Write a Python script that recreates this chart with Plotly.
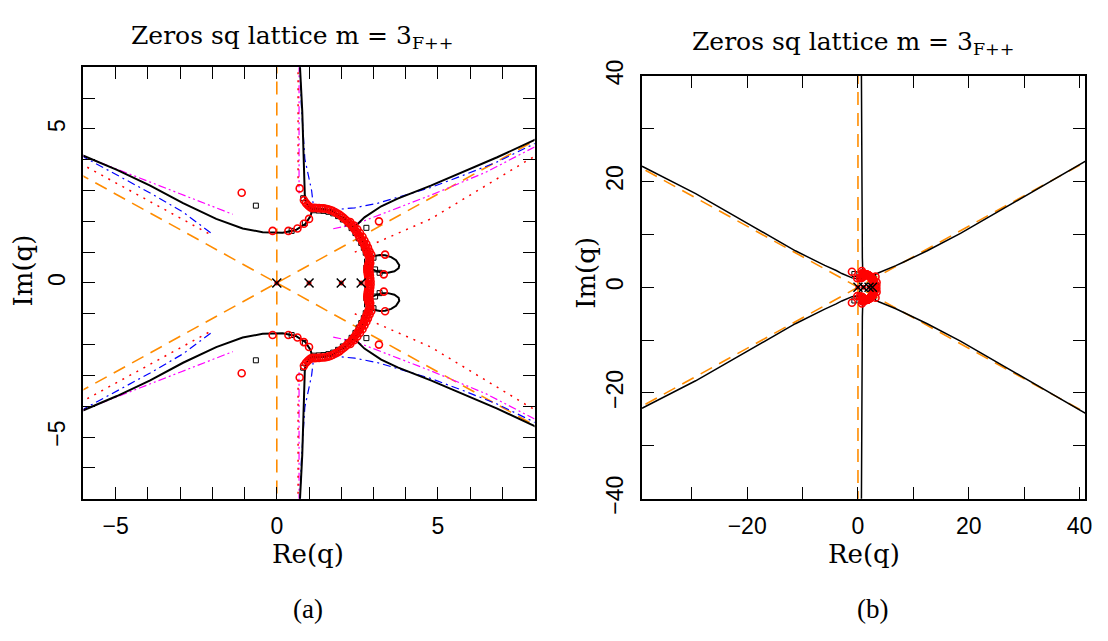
import plotly.graph_objects as go

W, H = 1108, 641

# ---------------- data (upper half-plane; lower half is the complex conjugate) ----------------
ASYM_DIAG_X = [-45.0, 45.0]
ASYM_DIAG_Y = [25.98, -25.98]
ASYM_VERT_X = [0.0, 0.0]
ASYM_VERT_Y = [-45.0, 45.0]

BLK_UL_X = [-42.0, -38.8, -29.3, -20.3, -11.3, -6.0, -4.96, -3.93, -2.91, -1.88, -1.06, -0.44, 0.18, 0.59, 0.89, 1.05, 1.10]
BLK_UL_Y = [24.0, 22.8, 17.7, 12.3, 6.9, 4.13, 3.67, 3.16, 2.59, 2.08, 1.77, 1.65, 1.63, 1.72, 1.92, 2.18, 2.40]
BLK_V_X = [0.60, 0.66, 0.72, 0.79, 0.87, 0.92, 1.00, 1.10]
BLK_V_Y = [45.0, 20.0, 7.0, 5.57, 2.80, 2.58, 2.46, 2.40]
BLK_ARC_X = [1.10, 1.30, 1.50, 1.70, 1.90, 2.10, 2.30, 2.47, 2.60, 2.72, 2.80, 2.86, 2.90, 2.84, 2.80, 2.81, 2.83]
BLK_ARC_Y = [2.40, 2.40, 2.37, 2.33, 2.22, 2.08, 1.90, 1.72, 1.50, 1.26, 1.05, 0.90, 0.80, 0.62, 0.45, 0.25, 0.0]
BLK_UR_X = [2.40, 2.72, 3.24, 3.75, 4.78, 5.81, 6.84, 7.97, 12.5, 18.5, 24.5, 33.5, 42.0]
BLK_UR_Y = [1.80, 2.13, 2.49, 2.74, 3.16, 3.62, 4.08, 4.63, 6.9, 10.2, 13.8, 19.2, 24.4]
BLK_LOOP_X = [2.90, 3.04, 3.20, 3.36, 3.55, 3.70, 3.80, 3.78, 3.65, 3.45, 3.29, 3.10, 2.95, 2.84]
BLK_LOOP_Y = [0.82, 0.88, 0.91, 0.90, 0.84, 0.74, 0.58, 0.48, 0.38, 0.33, 0.33, 0.38, 0.45, 0.55]

BLUE_L_X = [-6.1, -3.93, -2.91, -2.04]
BLUE_L_Y = [4.15, 2.92, 2.30, 1.62]
BLUE_R_X = [0.72, 0.76, 0.87, 0.95, 1.08, 1.13, 1.20, 1.60, 2.00, 2.42, 3.14, 4.17, 4.78, 5.80, 6.84, 7.86, 8.10]
BLUE_R_Y = [7.1, 5.8, 4.03, 3.60, 3.00, 2.55, 2.35, 2.36, 2.40, 2.44, 2.59, 2.90, 3.10, 3.50, 3.93, 4.45, 4.58]
MAG_L_X = [-6.1, -3.42, -1.37]
MAG_L_Y = [4.16, 3.08, 2.23]
MAG_V_X = [0.69, 0.69]
MAG_V_Y = [7.1, 2.9]
MAG_R_X = [1.75, 2.42, 3.24, 4.78, 6.50, 7.95, 8.10]
MAG_R_Y = [1.76, 1.90, 2.23, 2.85, 3.60, 4.40, 4.47]
RDOT_L_X = [-6.1, -2.04]
RDOT_L_Y = [3.88, 1.56]
RDOT_V_X = [0.66, 0.66]
RDOT_V_Y = [7.1, 3.1]
RDOT_R_X = [2.42, 4.78, 7.86, 8.10]
RDOT_R_Y = [1.00, 2.08, 4.03, 4.15]

ZERO_X = [-1.09, 0.71, -0.13, 0.36, 0.64, 0.84, 1.00, 3.17, 3.36, 3.32,
          0.84, 0.90, 0.95, 1.00, 1.05, 1.10, 1.17, 1.24, 1.31, 1.38, 1.45, 1.52, 1.59, 1.66, 1.73,
          1.80, 1.87, 1.94, 2.00, 2.06, 2.12, 2.18, 2.24, 2.30, 2.35, 2.40, 2.45, 2.50, 2.54, 2.58,
          2.62, 2.66, 2.70, 2.73, 2.76, 2.79, 2.82, 2.85, 2.88, 2.90, 2.88, 2.86, 2.84, 2.82, 2.81,
          2.81, 2.82, 2.83, 2.84, 2.85, 2.85,
          2.28, 2.40, 2.50, 2.58, 2.66, 2.72, 2.78, 2.83, 2.88, 2.93,
          2.90, 2.88, 2.87, 2.88, 2.89, 2.90, 2.91]
ZERO_Y = [2.93, 3.07, 1.69, 1.69, 1.77, 1.92, 2.08, 2.00, 0.92, 0.28,
          2.69, 2.60, 2.54, 2.49, 2.45, 2.43, 2.44, 2.43, 2.43, 2.42, 2.42, 2.41, 2.39, 2.37, 2.34,
          2.30, 2.26, 2.22, 2.17, 2.12, 2.07, 2.01, 1.95, 1.89, 1.83, 1.76, 1.69, 1.62, 1.55, 1.48,
          1.41, 1.34, 1.27, 1.19, 1.11, 1.03, 0.96, 0.89, 0.83, 0.78, 0.72, 0.66, 0.60, 0.53, 0.46,
          0.39, 0.32, 0.25, 0.18, 0.11, 0.04,
          1.98, 1.86, 1.74, 1.62, 1.50, 1.38, 1.26, 1.14, 1.02, 0.92,
          0.65, 0.55, 0.45, 0.35, 0.25, 0.15, 0.05]

SQ_X = [-0.65, 0.46, 0.87, 0.82, 2.78, 3.19, 3.00, 3.05,
        1.15, 1.30, 1.45, 1.60, 1.75, 1.90, 2.05, 2.20, 2.32, 2.44, 2.54, 2.62, 2.70, 2.76, 2.80, 2.78]
SQ_Y = [2.51, 1.69, 1.95, 2.75, 1.79, 0.33, 0.82, 0.44,
        2.36, 2.35, 2.34, 2.31, 2.26, 2.17, 2.06, 1.93, 1.78, 1.62, 1.45, 1.30, 1.14, 0.98, 0.70, 0.50]

REAL_X = [0.0, 1.0, 2.0, 2.618]
REAL_Y = [0.0, 0.0, 0.0, 0.0]

XT_A = list(range(-6, 9))
YT_A = list(range(-7, 8))
LAB_A = {-5: "\u22125", 0: "0", 5: "5"}
XT_B = [-30, -20, -10, 0, 10, 20, 30, 40]
YT_B = [-40, -30, -20, -10, 0, 10, 20, 30, 40]
LAB_B = {-40: "\u221240", -20: "\u221220", 0: "0", 20: "20", 40: "40"}

ORANGE = "#FF8C00"


def conj(v):
    return [-t for t in v]


fig = go.Figure()


def line(x, y, color, width, dash, xa, ya):
    for yy in (y, conj(y)):
        fig.add_trace(go.Scatter(x=x, y=yy, mode="lines", xaxis=xa, yaxis=ya,
                                 line=dict(color=color, width=width, dash=dash),
                                 showlegend=False, hoverinfo="skip"))


for xa, ya, bw, ow in (("x", "y", 2.0, 1.6), ("x2", "y2", 1.5, 1.6)):
    for dy in (ASYM_DIAG_Y, conj(ASYM_DIAG_Y)):
        fig.add_trace(go.Scatter(x=ASYM_DIAG_X, y=dy, mode="lines", xaxis=xa, yaxis=ya,
                                 line=dict(color=ORANGE, width=ow, dash="13px,8px"), showlegend=False))
    fig.add_trace(go.Scatter(x=ASYM_VERT_X, y=ASYM_VERT_Y, mode="lines", xaxis=xa, yaxis=ya,
                             line=dict(color=ORANGE, width=ow, dash="13px,8px"), showlegend=False))
    if xa == "x":
        line(BLUE_L_X, BLUE_L_Y, "#0000FF", 1.2, "8px,4px,2px,4px", xa, ya)
        line(BLUE_R_X, BLUE_R_Y, "#0000FF", 1.2, "8px,4px,2px,4px", xa, ya)
        line(MAG_L_X, MAG_L_Y, "#FF00FF", 1.2, "8px,3px,2px,3px,2px,3px", xa, ya)
        line(MAG_V_X, MAG_V_Y, "#FF00FF", 1.2, "8px,3px,2px,3px,2px,3px", xa, ya)
        line(MAG_R_X, MAG_R_Y, "#FF00FF", 1.2, "8px,3px,2px,3px,2px,3px", xa, ya)
        line(RDOT_L_X, RDOT_L_Y, "#FF0000", 1.5, "2px,6px", xa, ya)
        line(RDOT_V_X, RDOT_V_Y, "#FF0000", 1.5, "2px,6px", xa, ya)
        line(RDOT_R_X, RDOT_R_Y, "#FF0000", 1.5, "2px,6px", xa, ya)
    for bx, by in ((BLK_UL_X, BLK_UL_Y), (BLK_V_X, BLK_V_Y), (BLK_ARC_X, BLK_ARC_Y),
                   (BLK_UR_X, BLK_UR_Y), (BLK_LOOP_X, BLK_LOOP_Y)):
        line(bx, by, "black", bw, "solid", xa, ya)
    fig.add_trace(go.Scatter(x=SQ_X + SQ_X, y=SQ_Y + conj(SQ_Y), mode="markers",
                             xaxis=xa, yaxis=ya, showlegend=False,
                             marker=dict(symbol="square-open", size=5, color="black",
                                         line=dict(width=1, color="black"))))
    fig.add_trace(go.Scatter(x=ZERO_X + ZERO_X, y=ZERO_Y + conj(ZERO_Y), mode="markers",
                             xaxis=xa, yaxis=ya, showlegend=False,
                             marker=dict(symbol="circle-open", size=7, color="#FF0000",
                                         line=dict(width=1.6, color="#FF0000"))))
    fig.add_trace(go.Scatter(x=REAL_X, y=REAL_Y, mode="markers", xaxis=xa, yaxis=ya, showlegend=False,
                             marker=dict(symbol="circle", size=5, color="#FF0000")))
    fig.add_trace(go.Scatter(x=REAL_X, y=REAL_Y, mode="markers", xaxis=xa, yaxis=ya, showlegend=False,
                             marker=dict(symbol="x-thin-open", size=9, color="black",
                                         line=dict(width=1.5, color="black"))))

tickfont = dict(family="Liberation Sans", size=23, color="black")
common = dict(showgrid=False, zeroline=False, showline=True, linecolor="black", linewidth=1.5,
              mirror="ticks", ticks="inside", ticklen=12, tickwidth=1.3, tickcolor="black",
              tickfont=tickfont)


def px_x(p):
    return p / W


def px_y(p):
    return 1 - p / H


fig.update_layout(
    width=W, height=H, margin=dict(l=0, r=0, t=0, b=0), autosize=False,
    paper_bgcolor="white", plot_bgcolor="white",
    xaxis=dict(domain=[px_x(84), px_x(538)], range=[-6, 8], anchor="y",
               tickvals=XT_A, ticktext=[LAB_A.get(v, "") for v in XT_A], ticklabelstandoff=6, **common),
    yaxis=dict(domain=[px_y(508), px_y(54)], range=[-7, 7], anchor="x",
               tickvals=YT_A, ticktext=[LAB_A.get(v, "") for v in YT_A], tickangle=-90,
               ticklabelstandoff=8, **common),
    xaxis2=dict(domain=[px_x(646), px_x(1092)], range=[-39, 41], anchor="y2",
                tickvals=XT_B, ticktext=[LAB_B.get(v, "") for v in XT_B], ticklabelstandoff=6, **common),
    yaxis2=dict(domain=[px_y(508), px_y(63)], range=[-40, 40], anchor="x2",
                tickvals=YT_B, ticktext=[LAB_B.get(v, "") for v in YT_B], tickangle=-90,
                ticklabelstandoff=8, **common),
)

serif = "DejaVu Serif"
ann = [
    (294, 22, "Zeros sq lattice m = 3<sub>F++</sub>", serif, 25, 0),
    (858, 28, "Zeros sq lattice m = 3<sub>F++</sub>", serif, 25, 0),
    (310, 566, "Re(q)", serif, 26, 0),
    (869, 566, "Re(q)", serif, 26, 0),
    (23, 268, "Im(q)", serif, 26, -90),
    (589, 270, "Im(q)", serif, 26, -90),
    (310, 624, "(a)", "Liberation Serif", 27, 0),
    (878, 624, "(b)", "Liberation Serif", 27, 0),
]
for x, y, t, f, s, a in ann:
    fig.add_annotation(x=px_x(x), y=px_y(y), xref="paper", yref="paper", text=t, showarrow=False,
                       xanchor="center", yanchor="middle", textangle=a,
                       font=dict(family=f, size=s, color="black"))

fig.write_html("out.html", config={"displayModeBar": False})
